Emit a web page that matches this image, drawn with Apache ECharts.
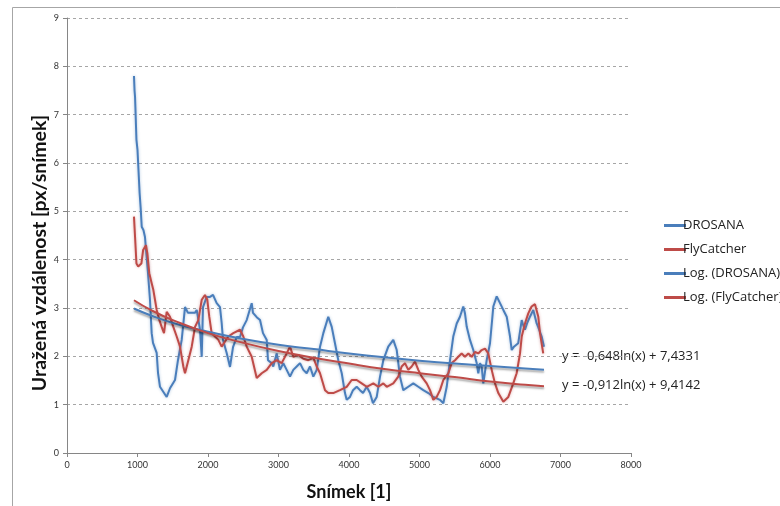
<!DOCTYPE html>
<html><head><meta charset="utf-8">
<script src="https://cdn.jsdelivr.net/npm/echarts@6/dist/echarts.min.js"></script>
<style>html,body{margin:0;padding:0;background:#fff}#c{width:780px;height:506px}</style>
</head><body><div id="c"></div>
<script>
const xTicks = [0,1000,2000,3000,4000,5000,6000,7000,8000];
const yTicks = [0,1,2,3,4,5,6,7,8,9];

const drosanaFrames = [950,958,965,970,985,1000,1030,1045,1060,1085,1106,1121,1149,1177,1201,1220,1272,1291,1319,1414,1461,1532,1574,1627,1674,1716,1769,1816,1840,1887,1911,1929,1982,2028,2071,2123,2170,2194,2213,2265,2312,2355,2407,2454,2496,2549,2620,2638,2691,2738,2780,2833,2851,2904,2926,2974,3021,3068,3116,3163,3210,3258,3305,3352,3400,3447,3494,3542,3589,3636,3706,3755,3801,3848,3897,3943,3967,4014,4057,4109,4156,4199,4251,4298,4340,4393,4440,4487,4557,4628,4677,4723,4770,4841,4912,4983,5054,5125,5196,5291,5338,5386,5433,5479,5528,5574,5621,5645,5670,5716,5763,5811,5834,5858,5882,5905,5953,6000,6047,6095,6142,6189,6237,6284,6308,6340,6400,6450,6470,6496,6530,6567,6614,6662,6685,6733,6766];
const drosanaValues = [7.80,7.5,7.37,7.16,6.48,6.27,5.38,5.07,4.68,4.61,4.47,4.2,3.72,3.17,2.48,2.28,2.07,1.66,1.37,1.16,1.34,1.51,1.92,2.34,3.02,2.9,2.9,2.9,2.96,2.55,1.99,3.02,3.23,3.23,3.27,3.1,3.02,2.69,2.34,2.07,1.78,2.19,2.4,2.4,2.6,2.75,3.1,2.9,2.81,2.75,2.48,2.34,1.92,1.86,1.79,2.06,1.72,1.86,1.72,1.58,1.72,1.79,1.86,1.72,1.65,1.79,1.58,1.72,2.2,2.48,2.82,2.61,2.27,1.92,1.65,1.24,1.1,1.16,1.3,1.37,1.3,1.24,1.37,1.24,1.03,1.16,1.58,1.92,2.2,2.34,2.13,1.58,1.3,1.37,1.44,1.37,1.3,1.24,1.16,1.1,1.03,1.37,1.92,2.41,2.68,2.82,3.03,2.89,2.61,2.34,2.13,1.86,1.65,1.86,1.79,1.44,1.92,2.27,3.03,3.24,3.1,2.96,2.82,2.41,2.13,2.2,2.27,2.75,2.65,2.55,2.7,2.82,2.96,2.68,2.6,2.41,2.2];

const flyFrames = [950,965,985,1010,1055,1080,1120,1140,1167,1201,1225,1248,1272,1310,1343,1376,1414,1461,1508,1556,1603,1650,1674,1721,1769,1816,1863,1911,1957,1990,2018,2052,2099,2147,2194,2217,2288,2359,2454,2501,2549,2620,2691,2762,2833,2904,2974,3045,3116,3163,3210,3281,3352,3423,3494,3542,3589,3660,3706,3777,3872,3967,4038,4109,4180,4251,4345,4415,4487,4535,4628,4699,4747,4794,4841,4889,4936,4983,5031,5102,5149,5196,5244,5291,5338,5409,5456,5504,5550,5598,5645,5693,5740,5787,5834,5882,5929,5976,6024,6071,6118,6189,6260,6330,6378,6426,6450,6496,6543,6590,6638,6685,6709,6755];
const flyValues = [4.89,4.48,3.92,3.86,3.92,4.2,4.3,4.13,3.72,3.51,3.37,3.17,2.96,2.75,2.61,2.48,2.92,2.82,2.61,2.41,2.2,1.79,1.65,1.92,2.2,2.61,2.75,3.17,3.27,3.17,2.82,2.48,2.41,2.34,2.2,2.2,2.41,2.48,2.55,2.41,2.2,1.99,1.55,1.65,1.72,1.86,1.92,1.86,2.06,2.2,1.99,2.03,1.95,1.92,1.97,1.79,1.65,1.3,1.24,1.24,1.3,1.37,1.51,1.51,1.44,1.37,1.44,1.37,1.44,1.37,1.44,1.58,1.79,1.86,1.72,1.79,1.89,1.72,1.58,1.44,1.3,1.1,1.16,1.3,1.51,1.65,1.86,1.92,1.99,2.06,1.99,2.06,1.99,2.09,2.06,2.13,2.16,2.06,1.72,1.44,1.24,1.06,1.16,1.44,1.65,2.06,2.41,2.68,2.89,3.03,3.08,2.82,2.48,2.06];

const trendFrames = [950,1200,1500,2000,2500,3000,3500,4000,4500,5000,5500,6000,6500,6766];
const drosanaTrend = [2.99,2.84,2.69,2.51,2.36,2.24,2.15,2.06,1.98,1.91,1.85,1.80,1.75,1.72];
const flyTrend = [3.16,2.95,2.75,2.48,2.28,2.11,1.97,1.85,1.74,1.65,1.57,1.48,1.41,1.38];

const seriesNames = ['DROSANA','FlyCatcher','Log. (DROSANA)','Log. (FlyCatcher)'];
const trendLabels = ['y = -0,648ln(x) + 7,4331','y = -0,912ln(x) + 9,4142'];
const yTitle = 'Uražená vzdálenost [px/snímek]';
const xTitle = 'Snímek [1]';

const BLUE = '#4a7ebb', RED = '#be4b48';
const FONT = 'Lato, "Open Sans", sans-serif';
const TFONT = '"Open Sans", Lato, sans-serif';
const pairs = (xs, ys) => xs.map((x, i) => [x, ys[i]]);

const chart = echarts.init(document.getElementById('c'), null, {renderer: 'canvas'});
chart.setOption({
  animation: false,
  backgroundColor: '#fff',
  textStyle: {fontFamily: FONT},
  grid: {left: 67, right: 149, top: 18, bottom: 53},
  legend: {
    orient: 'vertical', left: 659, top: 214, itemGap: 11, itemWidth: 22, itemHeight: 3,
    icon: 'rect',
    textStyle: {fontFamily: TFONT, fontSize: 13, color: '#222', padding: [0,0,0,-8]},
    data: seriesNames
  },
  xAxis: {
    type: 'value', min: 0, max: 8000, interval: 1000,
    axisLine: {show: true, lineStyle: {color: '#868686'}},
    axisTick: {show: true, length: 4, lineStyle: {color: '#868686'}},
    axisLabel: {fontSize: 9, color: '#333', margin: 8, fontFamily: FONT, formatter: v => String(v)},
    splitLine: {show: false},
    name: xTitle, nameLocation: 'middle', nameGap: 30,
    nameTextStyle: {fontSize: 18, fontWeight: 'bold', color: '#111', fontFamily: FONT}
  },
  yAxis: {
    type: 'value', min: 0, max: 9, interval: 1,
    axisLine: {show: true, lineStyle: {color: '#868686'}},
    axisTick: {show: true, length: 4, lineStyle: {color: '#868686'}},
    axisLabel: {fontSize: 9, color: '#333', margin: 8, fontFamily: FONT, formatter: v => String(v)},
    splitLine: {show: true, lineStyle: {color: '#a6a6a6', type: [3,3], width: 1}}
  },
  graphic: [
    {type: 'rect', shape: {x: 12.5, y: 7.5, width: 900, height: 700}, style: {fill: 'none', stroke: '#a6a6a6', lineWidth: 1}, silent: true, z: -10},
    {type: 'text', x: 40, y: 253, rotation: Math.PI / 2,
     style: {text: yTitle, font: 'bold 19.5px ' + FONT, fill: '#111', align: 'center', verticalAlign: 'middle'}},
    {type: 'text', left: 562, top: 350, style: {text: trendLabels[0], font: '13px ' + TFONT, fill: '#222'}},
    {type: 'text', left: 562, top: 379, style: {text: trendLabels[1], font: '13px ' + TFONT, fill: '#222'}}
  ],
  series: [
    {name: seriesNames[0], type: 'line', showSymbol: false, symbol: 'none', data: pairs(drosanaFrames, drosanaValues),
     color: BLUE, lineStyle: {width: 2, color: BLUE, shadowColor: 'rgba(74,126,187,0.45)', shadowBlur: 3}},
    {name: seriesNames[1], type: 'line', showSymbol: false, symbol: 'none', data: pairs(flyFrames, flyValues),
     color: RED, lineStyle: {width: 2, color: RED, shadowColor: 'rgba(190,75,72,0.45)', shadowBlur: 3}},
    {name: seriesNames[2], type: 'line', showSymbol: false, symbol: 'none', smooth: true, data: pairs(trendFrames, drosanaTrend),
     color: BLUE, z: 5, lineStyle: {width: 2, color: BLUE, shadowColor: 'rgba(0,0,0,0.35)', shadowBlur: 2, shadowOffsetY: 2}},
    {name: seriesNames[3], type: 'line', showSymbol: false, symbol: 'none', smooth: true, data: pairs(trendFrames, flyTrend),
     color: RED, z: 5, lineStyle: {width: 2, color: RED, shadowColor: 'rgba(0,0,0,0.35)', shadowBlur: 2, shadowOffsetY: 2}}
  ]
});
</script>
</body></html>
